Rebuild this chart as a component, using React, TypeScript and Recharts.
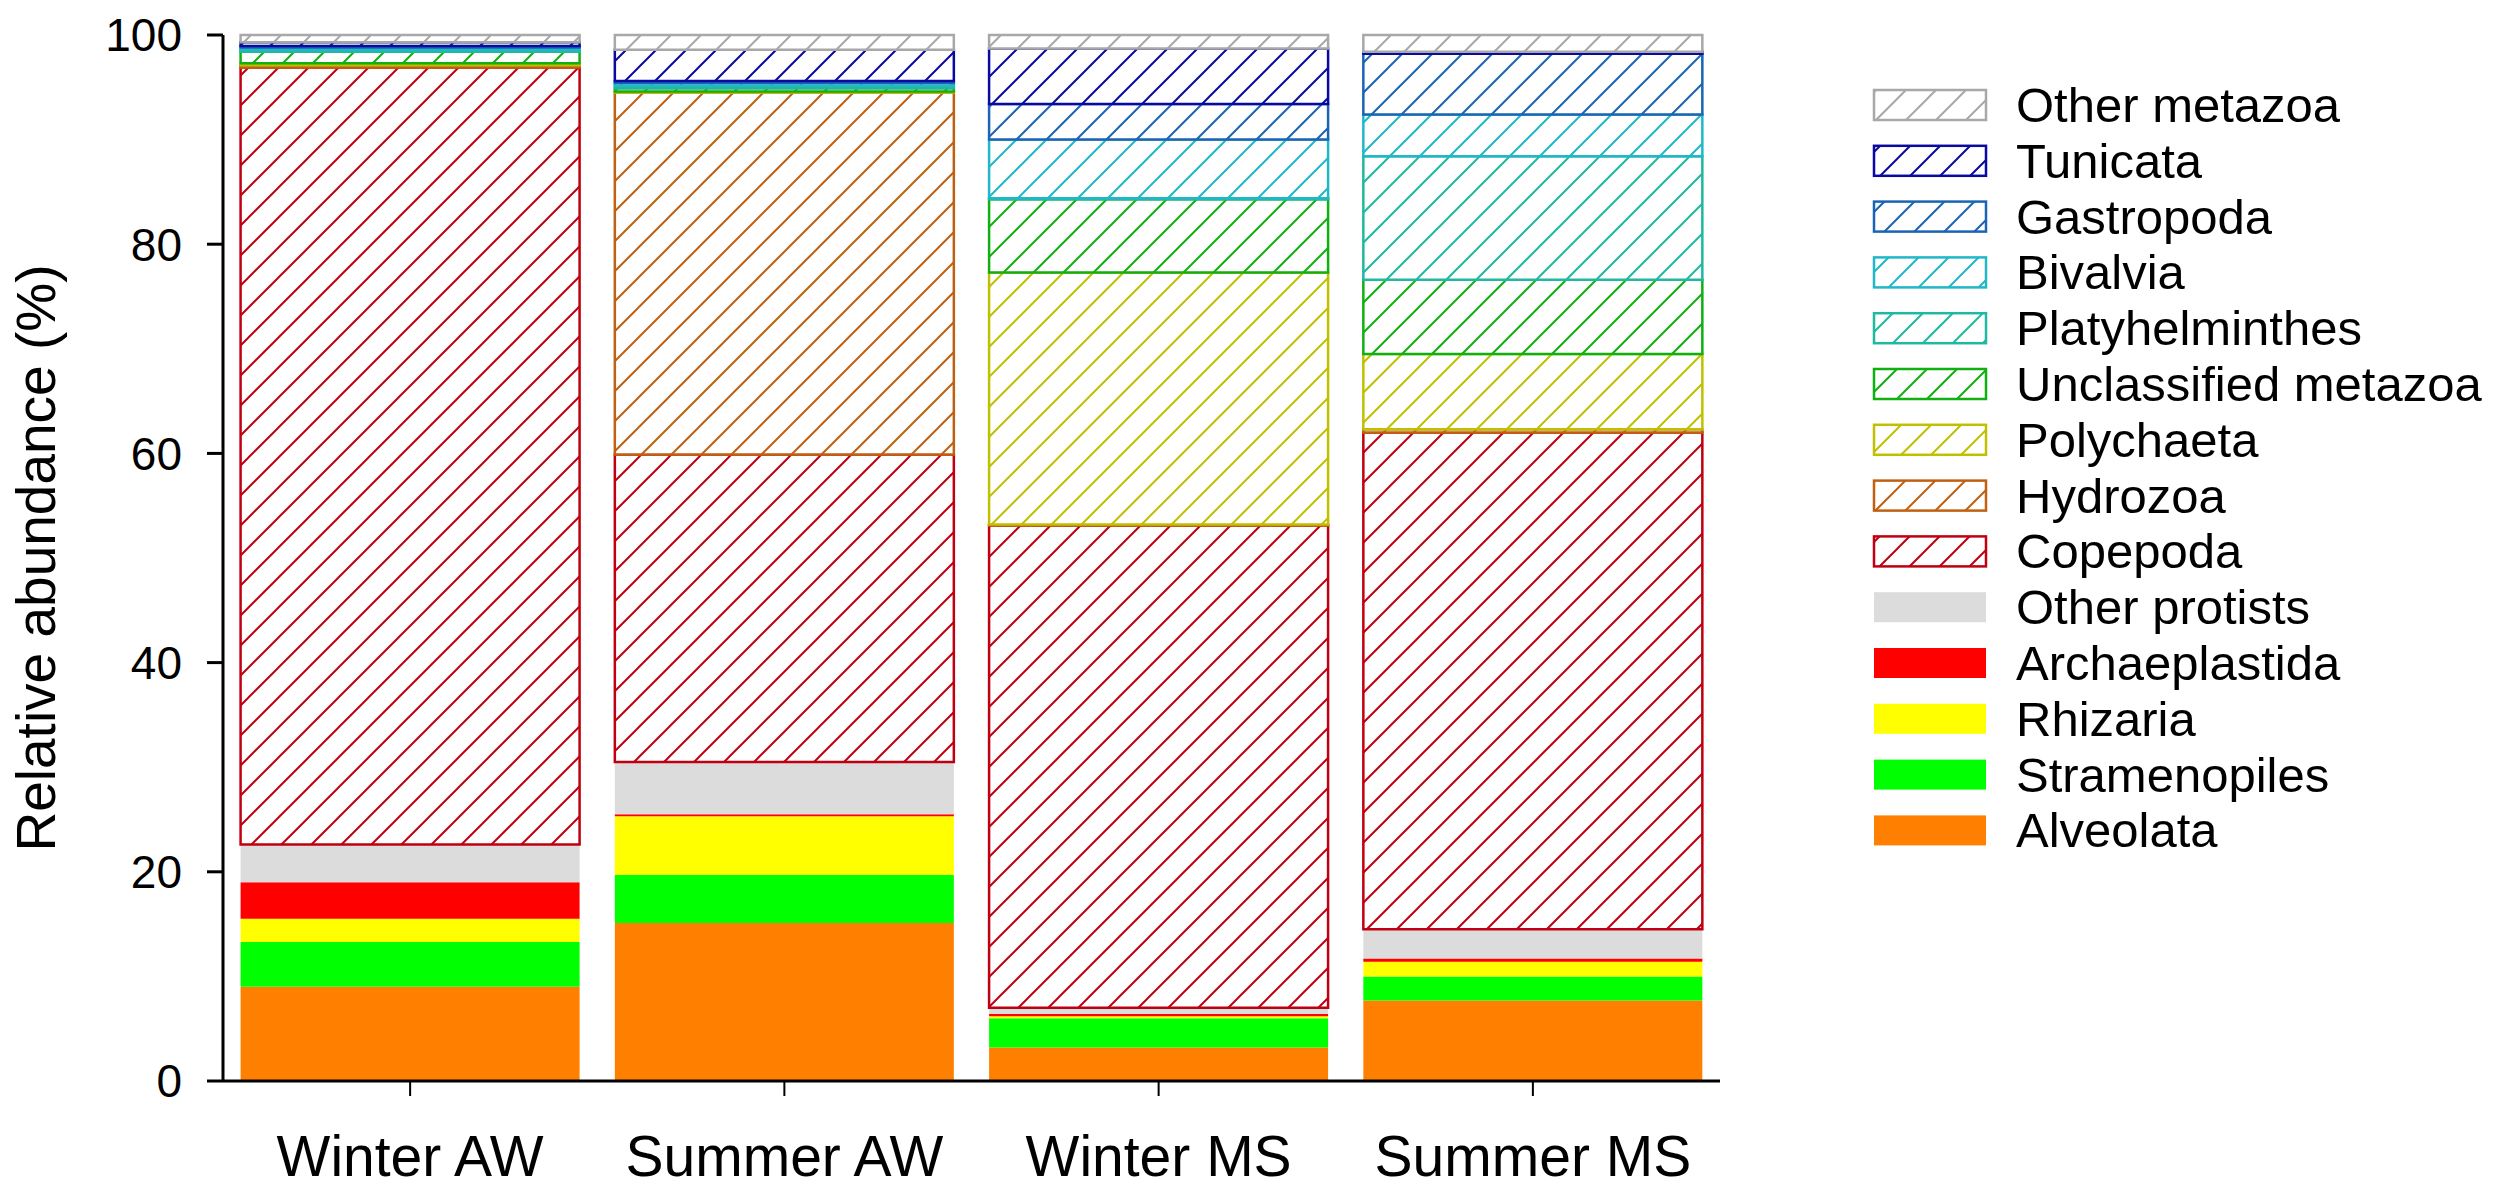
import React from 'react';
import { BarChart, Bar, XAxis, YAxis } from 'recharts';

const sites = ['Winter AW', 'Summer AW', 'Winter MS', 'Summer MS'];

// protists (solid fills), % of reads per site
const alveolata = [9.0, 15.1, 3.2, 7.7];
const stramenopiles = [4.3, 4.6, 2.8, 2.3];
const rhizaria = [2.2, 5.6, 0.2, 1.4];
const archaeplastida = [3.5, 0.2, 0.2, 0.3];
const otherProtists = [3.6, 5.0, 0.6, 2.8];

// metazoa (hatched)
const copepoda = [74.3, 29.4, 46.1, 47.5];
const hydrozoa = [0.2, 34.6, 0.1, 0.3];
const polychaeta = [0.2, 0.1, 24.1, 7.2];
const unclassifiedMetazoa = [1.1, 0.3, 7.0, 7.1];
const platyhelminthes = [0.2, 0.25, 0.1, 11.8];
const bivalvia = [0.2, 0.25, 5.6, 4.0];
const gastropoda = [0.15, 0.2, 3.4, 5.8];
const tunicata = [0.35, 3.0, 5.3, 0.2];
const otherMetazoa = [0.7, 1.4, 1.3, 1.6];

const yTicks = [0, 20, 40, 60, 80, 100];

// bottom -> top stack order
const series = [
  { name: 'Alveolata', values: alveolata, hatched: false },
  { name: 'Stramenopiles', values: stramenopiles, hatched: false },
  { name: 'Rhizaria', values: rhizaria, hatched: false },
  { name: 'Archaeplastida', values: archaeplastida, hatched: false },
  { name: 'Other protists', values: otherProtists, hatched: false },
  { name: 'Copepoda', values: copepoda, hatched: true },
  { name: 'Hydrozoa', values: hydrozoa, hatched: true },
  { name: 'Polychaeta', values: polychaeta, hatched: true },
  { name: 'Unclassified metazoa', values: unclassifiedMetazoa, hatched: true },
  { name: 'Platyhelminthes', values: platyhelminthes, hatched: true },
  { name: 'Bivalvia', values: bivalvia, hatched: true },
  { name: 'Gastropoda', values: gastropoda, hatched: true },
  { name: 'Tunicata', values: tunicata, hatched: true },
  { name: 'Other metazoa', values: otherMetazoa, hatched: true },
];

const colors: Record<string, string> = {
  Alveolata: '#FF8000',
  Stramenopiles: '#00FF00',
  Rhizaria: '#FFFF00',
  Archaeplastida: '#FF0000',
  'Other protists': '#DCDCDC',
  Copepoda: '#C00010',
  Hydrozoa: '#C06010',
  Polychaeta: '#C0C000',
  'Unclassified metazoa': '#10B010',
  Platyhelminthes: '#20B8A0',
  Bivalvia: '#20B8C8',
  Gastropoda: '#1A64B4',
  Tunicata: '#0A0AA0',
  'Other metazoa': '#A8A8A8',
};

const data = sites.map((site, i) => {
  const row: Record<string, string | number> = { name: site };
  series.forEach((s) => (row[s.name] = s.values[i]));
  return row;
});

const FONT = '"Liberation Sans", Arial, sans-serif';
const slug = (s: string) => s.replace(/\s+/g, '-').toLowerCase();

function HatchDefs({ prefix }: { prefix: string }) {
  return (
    <defs>
      {series
        .filter((s) => s.hatched)
        .map((s) => (
          <pattern
            key={s.name}
            id={`${prefix}-${slug(s.name)}`}
            patternUnits="userSpaceOnUse"
            width={30}
            height={30}
          >
            <rect width={30} height={30} fill="#fff" />
            <path
              d="M-5,5 L5,-5 M0,30 L30,0 M25,35 L35,25"
              stroke={colors[s.name]}
              strokeWidth={2}
            />
          </pattern>
        ))}
    </defs>
  );
}

function YLabel({ viewBox }: any) {
  const x = viewBox.x + 47;
  const y = viewBox.y + viewBox.height / 2;
  return (
    <text
      x={x}
      y={y}
      transform={`rotate(-90 ${x} ${y})`}
      textAnchor="middle"
      fontSize={55}
      fontFamily={FONT}
      fill="#000"
    >
      Relative abundance (%)
    </text>
  );
}

function Legend() {
  const legendItems = [...series].reverse();
  return (
    <svg
      width={2485}
      height={1181}
      style={{ position: 'absolute', left: 0, top: 0, pointerEvents: 'none' }}
    >
      <HatchDefs prefix="lg" />
      {legendItems.map((s, i) => {
        const cy = 97 + i * 55.8;
        return (
          <g key={s.name}>
            <rect
              x={1866}
              y={cy - 15}
              width={112}
              height={30}
              fill={s.hatched ? `url(#lg-${slug(s.name)})` : colors[s.name]}
              stroke={s.hatched ? colors[s.name] : 'none'}
              strokeWidth={2.5}
            />
            <text x={2008} y={cy + 17} fontSize={49} fontFamily={FONT} fill="#000">
              {s.name}
            </text>
          </g>
        );
      })}
    </svg>
  );
}

export default function App() {
  return (
    <div style={{ position: 'relative', width: 2485, height: 1181, fontFamily: FONT }}>
      <BarChart
        width={1740}
        height={1181}
        data={data}
        barCategoryGap="4.7%"
        margin={{ top: 27, right: 28, bottom: 0, left: 0 }}
      >
        <HatchDefs prefix="bar" />
        <XAxis
          dataKey="name"
          height={108}
          tickSize={15}
          tickMargin={40}
          tick={{ fontSize: 57, fill: '#000', fontFamily: FONT }}
          tickLine={{ stroke: '#000', strokeWidth: 2 }}
          axisLine={{ stroke: '#000', strokeWidth: 3 }}
        />
        <XAxis
          xAxisId="top"
          orientation="top"
          dataKey="name"
          height={0}
          tick={false}
          tickLine={false}
          axisLine={{ stroke: '#000', strokeWidth: 3 }}
        />
        <YAxis
          width={215}
          domain={[0, 100]}
          ticks={yTicks}
          tickSize={16}
          tickMargin={25}
          tick={{ fontSize: 46, fill: '#000', fontFamily: FONT }}
          tickLine={{ stroke: '#000', strokeWidth: 3 }}
          axisLine={{ stroke: '#000', strokeWidth: 3 }}
          label={<YLabel />}
        />
        <YAxis
          yAxisId="right"
          orientation="right"
          width={0}
          domain={[0, 100]}
          tick={false}
          tickLine={false}
          axisLine={{ stroke: '#000', strokeWidth: 3 }}
        />
        {series.map((s) => (
          <Bar
            key={s.name}
            dataKey={s.name}
            stackId="a"
            fill={s.hatched ? `url(#bar-${slug(s.name)})` : colors[s.name]}
            stroke={s.hatched ? colors[s.name] : 'none'}
            strokeWidth={2.5}
            isAnimationActive={false}
          />
        ))}
      </BarChart>
      <Legend />
    </div>
  );
}
